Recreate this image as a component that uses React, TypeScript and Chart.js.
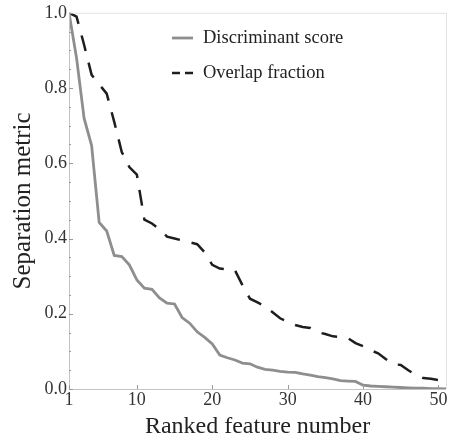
import React, { useEffect, useRef } from 'react';
import { Chart, registerables } from 'chart.js';

Chart.register(...registerables);

const rankedFeature = [
  1, 2, 3, 4, 5, 6, 7, 8, 9, 10, 11, 12, 13, 14, 15, 16, 17, 18, 19, 20, 21, 22, 23, 24, 25,
  26, 27, 28, 29, 30, 31, 32, 33, 34, 35, 36, 37, 38, 39, 40, 41, 42, 43, 44, 45, 46, 47, 48, 49, 50, 51,
];

const discriminantScore = [
  1.0, 0.88, 0.72, 0.647, 0.443, 0.42, 0.355, 0.352, 0.33, 0.29, 0.268, 0.265, 0.242, 0.228, 0.226,
  0.19, 0.175, 0.152, 0.137, 0.12, 0.09, 0.083, 0.077, 0.069, 0.067, 0.058, 0.052, 0.05, 0.047, 0.045,
  0.044, 0.04, 0.037, 0.033, 0.03, 0.027, 0.022, 0.021, 0.02, 0.01, 0.008, 0.007, 0.006, 0.005, 0.004,
  0.003, 0.002, 0.002, 0.001, 0.001, 0.0,
];

const overlapFraction = [
  1.0, 0.99, 0.915, 0.835, 0.81, 0.785, 0.71, 0.63, 0.59, 0.57, 0.45, 0.44, 0.425, 0.405, 0.4,
  0.395, 0.39, 0.385, 0.363, 0.33, 0.32, 0.318, 0.316, 0.276, 0.24, 0.23, 0.22, 0.204, 0.188, 0.178,
  0.17, 0.165, 0.162, 0.151, 0.146, 0.14, 0.138, 0.135, 0.122, 0.114, 0.103, 0.095, 0.08, 0.066, 0.064,
  0.05, 0.037, 0.029, 0.027, 0.024, 0.005,
];

const xTickValues = [1, 10, 20, 30, 40, 50];
const seriesLabels = ['Discriminant score', 'Overlap fraction'];

const SERIF = '"Liberation Serif", "Times New Roman", serif';
const GRAY = '#8e8e8e';
const DARK = '#1e1e1e';

const framePlugin = {
  id: 'frameAndLegend',
  afterDraw(chart: any) {
    const { ctx, chartArea, scales } = chart;
    const { left, right, top, bottom } = chartArea;
    ctx.save();
    // frame
    ctx.lineWidth = 1;
    ctx.strokeStyle = '#e2e2e2';
    ctx.beginPath();
    ctx.moveTo(left, top + 0.5);
    ctx.lineTo(right + 0.5, top + 0.5);
    ctx.lineTo(right + 0.5, bottom);
    ctx.stroke();
    ctx.strokeStyle = '#c4c4c4';
    ctx.beginPath();
    ctx.moveTo(left + 0.5, top);
    ctx.lineTo(left + 0.5, bottom + 0.5);
    ctx.lineTo(right, bottom + 0.5);
    ctx.stroke();
    // inward ticks
    ctx.strokeStyle = '#9a9a9a';
    const ys = scales.y;
    ys.ticks.forEach((t: any) => {
      const py = Math.round(ys.getPixelForValue(t.value)) + 0.5;
      const major = Math.abs(t.value * 5 - Math.round(t.value * 5)) < 1e-6;
      ctx.beginPath();
      ctx.moveTo(left, py);
      ctx.lineTo(left + (major ? 4 : 2), py);
      ctx.stroke();
    });
    const xs = scales.x;
    xs.ticks.forEach((t: any) => {
      const px = Math.round(xs.getPixelForValue(t.value)) + 0.5;
      ctx.beginPath();
      ctx.moveTo(px, bottom);
      ctx.lineTo(px, bottom - 4);
      ctx.stroke();
    });
    // legend
    const ds = chart.data.datasets;
    const rows = [38, 73];
    ds.forEach((d: any, i: number) => {
      const y = rows[i];
      ctx.strokeStyle = d.borderColor;
      ctx.lineWidth = d.borderWidth;
      ctx.setLineDash(i === 1 ? [8, 5] : []);
      ctx.beginPath();
      ctx.moveTo(172, y);
      ctx.lineTo(193, y);
      ctx.stroke();
      ctx.setLineDash([]);
      ctx.fillStyle = '#222';
      ctx.font = `18.5px ${SERIF}`;
      ctx.textAlign = 'left';
      ctx.textBaseline = 'middle';
      ctx.fillText(d.label, 203, y);
    });
    ctx.restore();
  },
};

export default function App() {
  const canvasRef = useRef<HTMLCanvasElement | null>(null);

  useEffect(() => {
    if (!canvasRef.current) return;
    const chart = new Chart(canvasRef.current, {
      type: 'line',
      data: {
        datasets: [
          {
            label: seriesLabels[0],
            data: rankedFeature.map((x, i) => ({ x, y: discriminantScore[i] })),
            borderColor: GRAY,
            borderWidth: 2.8,
            pointRadius: 0,
            tension: 0,
            fill: false,
          },
          {
            label: seriesLabels[1],
            data: rankedFeature.map((x, i) => ({ x, y: overlapFraction[i] })),
            borderColor: DARK,
            borderWidth: 2.5,
            borderDash: [16, 12],
            pointRadius: 0,
            tension: 0,
            fill: false,
          },
        ],
      },
      options: {
        responsive: false,
        animation: false,
        events: [],
        layout: { padding: { top: 12, right: 3, left: 0, bottom: 0 } },
        plugins: {
          legend: { display: false },
          tooltip: { enabled: false },
        },
        scales: {
          x: {
            type: 'linear',
            min: 1,
            max: 51,
            border: { display: false },
            grid: { display: false, drawTicks: false },
            afterBuildTicks: (scale: any) => {
              scale.ticks = xTickValues.map((v) => ({ value: v }));
            },
            afterFit: (scale: any) => {
              scale.height = 53;
            },
            ticks: {
              padding: 0,
              maxRotation: 0,
              autoSkip: false,
              color: '#333',
              font: { family: SERIF, size: 18 },
              callback: (v: any) => String(v),
            },
            title: {
              display: true,
              text: 'Ranked feature number',
              color: '#222',
              font: { family: SERIF, size: 24 },
              padding: { top: 0, bottom: 1 },
            },
          },
          y: {
            type: 'linear',
            min: 0,
            max: 1,
            border: { display: false },
            grid: { display: false, drawTicks: false },
            afterFit: (scale: any) => {
              scale.width = 69;
            },
            ticks: {
              stepSize: 0.05,
              padding: 2,
              autoSkip: false,
              color: '#333',
              font: { family: SERIF, size: 18 },
              callback: (v: any) => {
                const n = Number(v);
                return Math.abs(n * 5 - Math.round(n * 5)) < 1e-6 ? n.toFixed(1) : '';
              },
            },
            title: {
              display: true,
              text: 'Separation metric',
              color: '#222',
              font: { family: SERIF, size: 25 },
              padding: { top: 8, bottom: 0 },
            },
          },
        },
      },
      plugins: [framePlugin],
    });
    return () => chart.destroy();
  }, []);

  return (
    <div style={{ position: 'fixed', left: 0, top: 0, width: 449, height: 442, background: '#fff' }}>
      <canvas ref={canvasRef} width={449} height={442} />
    </div>
  );
}
